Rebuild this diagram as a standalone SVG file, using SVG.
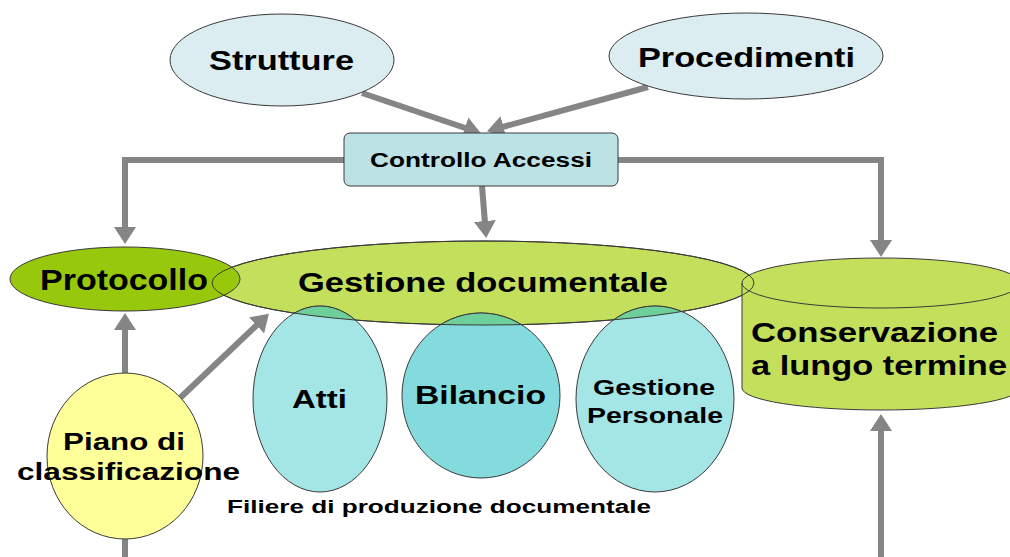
<svg xmlns="http://www.w3.org/2000/svg" width="1010" height="557" viewBox="0 0 1010 557">
<defs>
<style>
text{font-family:"Liberation Sans",Arial,sans-serif;font-weight:bold;fill:#000;}
.c{text-anchor:middle;}
.conn{fill:none;stroke:#858585;stroke-width:6;stroke-linejoin:miter;}
.out{stroke:#3a3a3a;stroke-width:1;}
.top{fill:#dcedf1;}
.cyan{fill:#a4e5e6;}
.cyan2{fill:#84dbde;}
.ov{fill:#6fcf9a;stroke:#3a3a3a;stroke-width:1;}
.green{fill:#c3df5c;}
</style>
<marker id="ah" markerUnits="userSpaceOnUse" markerWidth="18" markerHeight="22" refX="2" refY="11" orient="auto" viewBox="0 0 18 22">
<path d="M0,0 L17,11 L0,22 Z" fill="#858585"/>
</marker>
<clipPath id="gdClip"><ellipse cx="483" cy="283" rx="271" ry="42"/></clipPath>
</defs>
<rect width="1010" height="557" fill="#fff"/>

<g id="connectors">
<line class="conn" x1="362" y1="93" x2="466.7" y2="128.5" marker-end="url(#ah)"/>
<line class="conn" x1="648" y1="87" x2="501.5" y2="127.3" marker-end="url(#ah)"/>
<path class="conn" d="M344,160 L125,160 L125,229" marker-end="url(#ah)"/>
<path class="conn" d="M618,160 L881,160 L881,242" marker-end="url(#ah)"/>
<line class="conn" x1="482" y1="186" x2="485" y2="223" marker-end="url(#ah)"/>
<line class="conn" x1="125" y1="373" x2="125" y2="328" marker-end="url(#ah)"/>
<line class="conn" x1="180" y1="398" x2="258" y2="324" marker-end="url(#ah)"/>
<line class="conn" x1="125" y1="539" x2="125" y2="560"/>
<line class="conn" x1="881" y1="560" x2="881" y2="429" marker-end="url(#ah)"/>
</g>

<g id="strutture">
<ellipse class="top out" cx="282" cy="60" rx="112" ry="46"/>
<text class="c" x="281.5" y="70" font-size="28" textLength="145" lengthAdjust="spacingAndGlyphs">Strutture</text>
</g>

<g id="procedimenti">
<ellipse class="top out" cx="746" cy="56" rx="137" ry="43"/>
<text class="c" x="746.5" y="67" font-size="28" textLength="217" lengthAdjust="spacingAndGlyphs">Procedimenti</text>
</g>

<g id="controllo-accessi">
<rect class="out" x="344" y="133" width="274" height="53" rx="6" fill="#bde2e6"/>
<text class="c" x="481" y="167" font-size="20" textLength="222" lengthAdjust="spacingAndGlyphs">Controllo Accessi</text>
</g>

<g id="gestione-documentale">
<ellipse class="green out" cx="483" cy="283" rx="271" ry="42"/>
<text class="c" x="483" y="292" font-size="27" textLength="370" lengthAdjust="spacingAndGlyphs">Gestione documentale</text>
</g>

<g id="conservazione">
<path class="green out" d="M742,283 L742,388 A139,22 0 0 0 1020,388 L1020,283 Z"/>
<ellipse class="green out" cx="881" cy="283" rx="139" ry="25"/>
<text x="751" y="342" font-size="28" textLength="247" lengthAdjust="spacingAndGlyphs">Conservazione</text>
<text x="751" y="375" font-size="28" textLength="256" lengthAdjust="spacingAndGlyphs">a lungo termine</text>
</g>

<g id="protocollo">
<ellipse class="out" cx="125" cy="279" rx="115" ry="32" fill="#98c80c"/>
<text class="c" x="124" y="290" font-size="29" textLength="168" lengthAdjust="spacingAndGlyphs">Protocollo</text>
</g>

<g id="atti">
<ellipse class="cyan out" cx="320" cy="399" rx="67" ry="93"/>
<text class="c" x="319.5" y="408" font-size="26" textLength="55" lengthAdjust="spacingAndGlyphs">Atti</text>
</g>

<g id="bilancio">
<ellipse class="cyan2 out" cx="481" cy="395.5" rx="79" ry="82.5"/>
<text class="c" x="480.5" y="404" font-size="26" textLength="131" lengthAdjust="spacingAndGlyphs">Bilancio</text>
</g>

<g id="gestione-personale">
<ellipse class="cyan out" cx="655" cy="399" rx="79" ry="93"/>
<text class="c" x="654" y="395" font-size="22" textLength="122" lengthAdjust="spacingAndGlyphs">Gestione</text>
<text class="c" x="655" y="423" font-size="22" textLength="136" lengthAdjust="spacingAndGlyphs">Personale</text>
</g>

<g id="overlaps">
<g clip-path="url(#gdClip)">
<ellipse class="ov" cx="320" cy="399" rx="67" ry="93"/>
<ellipse class="ov" cx="481" cy="395.5" rx="79" ry="82.5"/>
<ellipse class="ov" cx="655" cy="399" rx="79" ry="93"/>
</g>
<ellipse class="out" cx="483" cy="283" rx="271" ry="42" fill="none"/>
</g>

<g id="piano-classificazione">
<ellipse class="out" cx="125" cy="456" rx="78" ry="83" fill="#ffff99"/>
<text class="c" x="124" y="450" font-size="24" textLength="122" lengthAdjust="spacingAndGlyphs">Piano di</text>
<text class="c" x="128.5" y="480" font-size="24" textLength="223" lengthAdjust="spacingAndGlyphs">classificazione</text>
</g>

<g id="filiere-label">
<text class="c" x="439" y="513" font-size="18" textLength="424" lengthAdjust="spacingAndGlyphs">Filiere di produzione documentale</text>
</g>
</svg>
